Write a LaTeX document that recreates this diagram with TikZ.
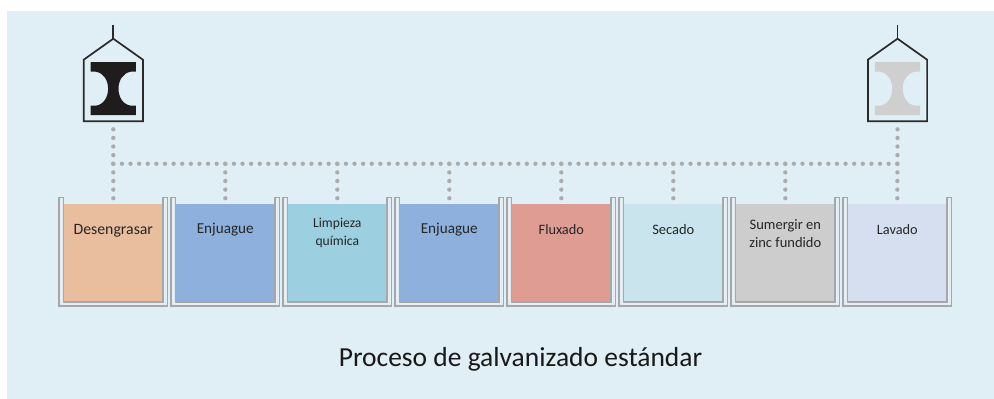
\documentclass[tikz,border=0pt]{standalone}
\usepackage{fontspec}
\setmainfont{Carlito}
\definecolor{bgblue}{HTML}{E0EEF5}
\definecolor{dotgray}{HTML}{A9ABAE}
\definecolor{wallgray}{HTML}{A4A8AB}
\definecolor{wallfill}{HTML}{E4EEF3}
\definecolor{ink}{HTML}{2A2A2A}
\definecolor{beamdark}{HTML}{1E1C1D}
\definecolor{beamlight}{HTML}{CFCFD0}
\definecolor{tk1}{HTML}{E9BE9F}
\definecolor{tk2}{HTML}{8EB0DC}
\definecolor{tk3}{HTML}{9CCFE0}
\definecolor{tk4}{HTML}{8EB0DC}
\definecolor{tk5}{HTML}{DF9C93}
\definecolor{tk6}{HTML}{C9E4EC}
\definecolor{tk7}{HTML}{CDCDCD}
\definecolor{tk8}{HTML}{D5DFEF}
\tikzset{
  dotline/.style={dotgray,line width=4.3pt,line cap=round,dash pattern=on 0pt off 8.615pt},
  liquid/.style={minimum width=99.6pt,minimum height=97.5pt,inner sep=0pt,outer sep=0pt,anchor=north},
  wall/.style={draw=wallgray,fill=wallfill,line width=1.7pt,line join=miter},
  hanger/.style={draw=ink,line width=1.7pt,line join=miter},
  tanklabel/.style={text=black!85,align=center,inner sep=0pt},
  title/.style={font=\fontsize{27.5}{30}\selectfont,text=black!90,inner sep=0pt,anchor=base}
}
\begin{document}
\begin{tikzpicture}[x=1pt,y=-1pt]
\useasboundingbox (0,0) rectangle (994,399);
\fill[bgblue] (7,11) rectangle (994,399);
% tanks
\foreach \i/\lbl/\ly/\fs in {
  1/{Desengrasar}/230.5/15.8,
  2/{Enjuague}/229.5/15.2,
  3/{Limpieza\\química}/233/13.6,
  4/{Enjuague}/229.5/15.2,
  5/{Fluxado}/229.5/14.3,
  6/{Secado}/229.5/14.5,
  7/{Sumergir en\\zinc fundido}/233.5/14.5,
  8/{Lavado}/230/14.3}{
  \pgfmathsetmacro{\cx}{113.3+112*(\i-1)}
  \node[liquid,fill=tk\i] (tank\i) at (\cx,204) {};
  \draw[wall] (\cx-54.2,197.5) -- (\cx-54.2,306) -- (\cx+54.2,306) -- (\cx+54.2,197.5)
     -- (\cx+49.8,197.5) -- (\cx+49.8,301.7) -- (\cx-49.8,301.7) -- (\cx-49.8,197.5) -- cycle;
  \node[tanklabel,font=\fontsize{\fs}{17.3}\selectfont] (label\i) at (\cx,\ly) {\lbl};
}
% hoists
\foreach \n/\cx/\beam in {a/113.3/beamdark,b/897.5/beamlight}{
  \coordinate (hook\n) at (\cx,24.7);
  \coordinate (apex\n) at (\cx,38.7);
  \coordinate (drop\n) at (\cx,129.3);
  \draw[hanger] (hook\n) -- (apex\n);
  \draw[hanger] (apex\n) -- (\cx+29.6,59.7) -- (\cx+29.6,121.3) -- (\cx-29.6,121.3) -- (\cx-29.6,59.7) -- cycle;
  \fill[\beam] (\cx-22.6,62) -- (\cx+22.6,62) -- (\cx+22.6,71.7) -- (\cx+17.5,71.7)
     .. controls (\cx+9.5,73) and (\cx+5.2,80.5) .. (\cx+5.2,88.7)
     .. controls (\cx+5.2,97) and (\cx+9.5,104.5) .. (\cx+17.5,105.7)
     -- (\cx+22.6,105.7) -- (\cx+22.6,115) -- (\cx-22.6,115) -- (\cx-22.6,105.7) -- (\cx-17.5,105.7)
     .. controls (\cx-9.5,104.5) and (\cx-5.2,97) .. (\cx-5.2,88.7)
     .. controls (\cx-5.2,80.5) and (\cx-9.5,73) .. (\cx-17.5,71.7)
     -- (\cx-22.6,71.7) -- cycle;
}
% dotted rail
\coordinate (railstart) at (113.3,163.76);
\coordinate (railend) at (897.5,163.76);
\draw[dotline] (railstart) -- (railend);
\draw[dotline] (dropa) -- (tank1.north);
\draw[dotline] (dropb) -- (tank8.north);
\foreach \i in {2,...,7}{
  \pgfmathsetmacro{\cx}{113.3+112*(\i-1)}
  \coordinate (tap\i) at (\cx,163.76);
  \draw[dotline] (tap\i) -- (tank\i.north);
}
\node[title] (caption) at (520.5,366) {Proceso de galvanizado estándar};
\end{tikzpicture}
\end{document}
